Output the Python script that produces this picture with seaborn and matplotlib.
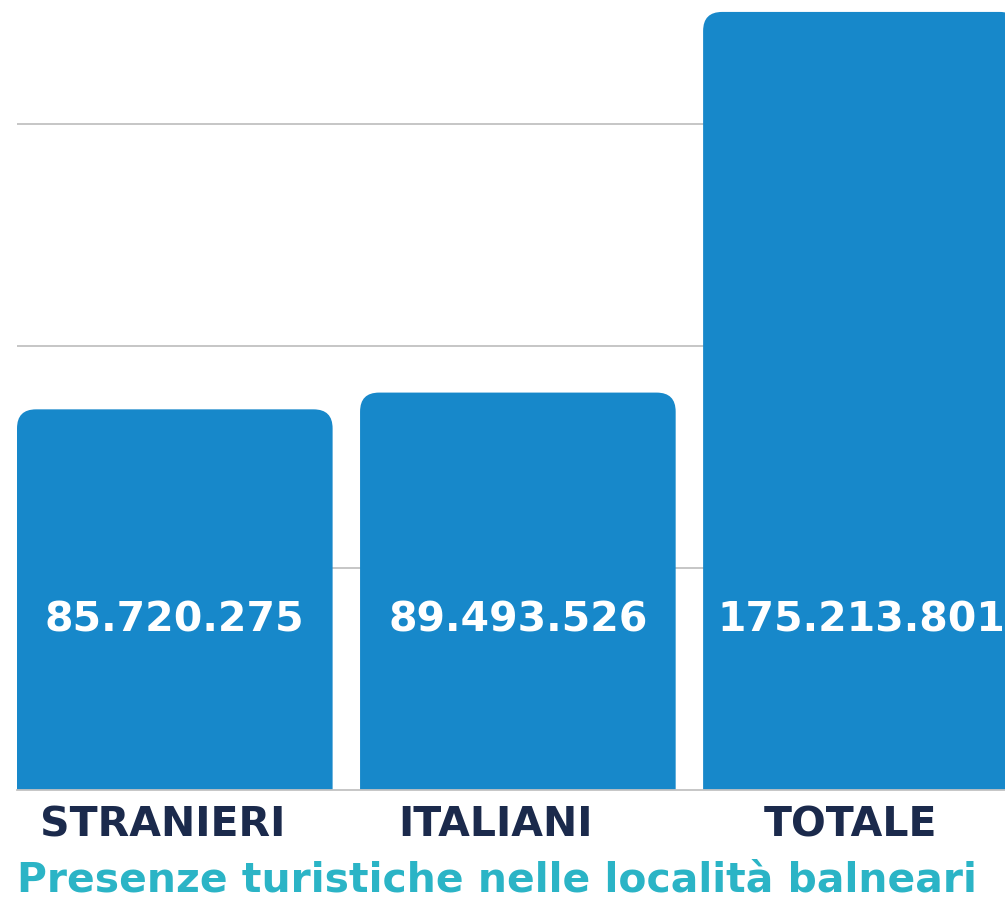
import numpy as np
import pandas as pd
import seaborn as sns
import matplotlib.pyplot as plt
import matplotlib.transforms as mtransforms
from matplotlib.patches import FancyBboxPatch

categorie = ['STRANIERI', 'ITALIANI', 'TOTALE']
presenze = [85720275, 89493526, 175213801]
etichette = ['85.720.275', '89.493.526', '175.213.801']
griglia = [50e6, 100e6, 150e6]
titolo = 'Presenze turistiche nelle località balneari'

BLU = '#1788ca'
NAVY = '#1b2a4c'
TEAL = '#2bb4c6'
GRIGIO = '#c2c2c2'

W, H = 1005, 899

sns.set_theme(style='white')
plt.rcParams['font.family'] = ['DejaVu Sans']


def arrotonda(ax, raggio_px=19):
    # sostituisce le barre di seaborn con barre dagli angoli superiori arrotondati
    x0, x1 = ax.get_xlim()
    y0, y1 = ax.get_ylim()
    bb = ax.get_position()
    px_x = (x1 - x0) / (bb.width * W)
    px_y = (y1 - y0) / (bb.height * H)
    aspetto = px_y / px_x
    r = raggio_px * px_x
    for p in list(ax.patches):
        x, w, h = p.get_x(), p.get_width(), p.get_height()
        nuovo = FancyBboxPatch((x, -20e6), w, h + 20e6,
                               boxstyle=f'round,pad=0,rounding_size={r}',
                               mutation_aspect=aspetto,
                               facecolor=BLU, edgecolor='none', zorder=2)
        p.remove()
        ax.add_patch(nuovo)


def main():
    df = pd.DataFrame({'categoria': categorie, 'presenze': presenze})

    fig = plt.figure(figsize=(W / 100, H / 100), dpi=100)
    ax = fig.add_axes([17 / W, 109 / H, 988 / W, 790 / H])
    sns.barplot(data=df, x='categoria', y='presenze', color=BLU,
                saturation=1, width=0.92, ax=ax, zorder=2)

    ax.set_xlim(-0.46, 2.42)
    ax.set_ylim(0, 177.9e6)
    arrotonda(ax)

    ax.set_yticks(griglia)
    ax.set_yticklabels([])
    ax.yaxis.grid(True, color=GRIGIO, lw=1.3)
    ax.set_axisbelow(True)
    for s in ['top', 'right', 'left']:
        ax.spines[s].set_visible(False)
    ax.spines['bottom'].set_color(GRIGIO)
    ax.spines['bottom'].set_linewidth(1.3)
    ax.set_xlabel('')
    ax.set_ylabel('')
    ax.tick_params(axis='both', length=0)
    ax.tick_params(axis='x', pad=11)
    spost = [-12, -22, -10]
    for t, dx in zip(ax.get_xticklabels(), spost):
        t.set_fontsize(29.5)
        t.set_fontweight('bold')
        t.set_color(NAVY)
        t.set_transform(t.get_transform() +
                        mtransforms.ScaledTranslation(dx / 100, 0, fig.dpi_scale_trans))

    for i, lab in enumerate(etichette):
        ax.text(i, 38.2e6, lab, ha='center', va='center', color='white',
                fontsize=29.5, fontweight='bold', zorder=3)

    fig.text(17 / W, 7 / H, titolo, color=TEAL, fontsize=29.4,
             fontweight='bold', va='baseline', ha='left')

    fig.savefig('out.png', dpi=100, facecolor='white')
    plt.close(fig)


if __name__ == '__main__':
    main()
